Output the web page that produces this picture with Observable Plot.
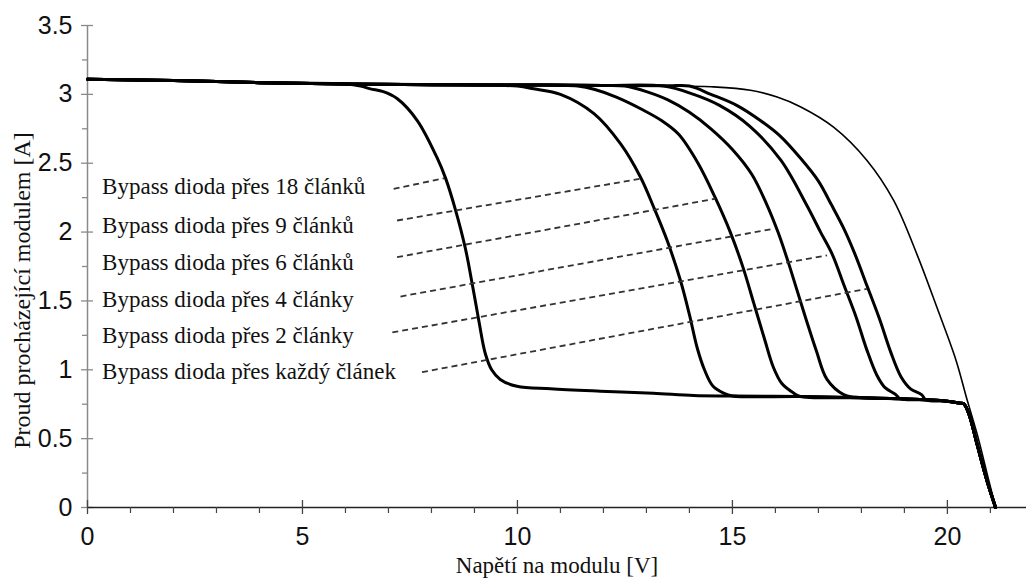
<!DOCTYPE html>
<html>
<head>
<meta charset="utf-8">
<script src="https://cdn.jsdelivr.net/npm/d3@7"></script>
<script src="https://cdn.jsdelivr.net/npm/@observablehq/plot@0.6"></script>
<style>
  html, body { margin: 0; padding: 0; background: #fff; }
  #chart svg { display: block; }
</style>
</head>
<body>
<div id="chart"></div>
<script>
// ---- shared parts of the I-V curves ----
const topV = [0, 2, 4, 6, 8, 10, 12, 13.5, 14.5];
const topI = [3.11, 3.10, 3.085, 3.075, 3.07, 3.068, 3.065, 3.062, 3.055];
const plateauV = [10.77, 11.93, 13.16, 14.1, 15.0, 16.58, 18.0, 18.9, 19.5, 19.99, 20.3, 20.38, 20.5, 20.69, 20.92, 21.12];
const plateauI = [0.862, 0.845, 0.83, 0.813, 0.81, 0.806, 0.797, 0.79, 0.782, 0.772, 0.757, 0.753, 0.68, 0.46, 0.196, 0];

// ---- bypass-diode curves (own part) ----
const v18 = [6.35, 6.58, 6.88, 7.2, 7.67, 8.13, 8.33, 8.56, 8.79, 8.95, 9.1, 9.25, 9.4, 9.6, 9.99];
const i18 = [3.06, 3.04, 3.02, 2.97, 2.81, 2.54, 2.39, 2.16, 1.88, 1.62, 1.36, 1.12, 1.0, 0.93, 0.88];
const v9 = [10.0, 10.38, 11.0, 11.78, 12.4, 12.86, 13.17, 13.48, 13.79, 14.0, 14.18, 14.35, 14.55, 14.8];
const i9 = [3.06, 3.04, 3.0, 2.86, 2.64, 2.40, 2.18, 1.94, 1.65, 1.4, 1.16, 1.0, 0.88, 0.83];
const v6 = [11.4, 11.8, 12.3, 12.9, 13.35, 13.75, 14.2, 14.6, 14.95, 15.25, 15.5, 15.75, 15.95, 16.15, 16.43];
const i6 = [3.06, 3.035, 2.98, 2.89, 2.81, 2.71, 2.5, 2.25, 2.0, 1.74, 1.48, 1.22, 1.02, 0.9, 0.83];
const v4 = [12.5, 13.0, 13.5, 14.0, 14.5, 15.0, 15.45, 15.8, 16.06, 16.3, 16.5, 16.72, 16.95, 17.2, 17.59];
const i4 = [3.06, 3.02, 2.96, 2.87, 2.75, 2.6, 2.42, 2.2, 2.0, 1.78, 1.58, 1.36, 1.14, 0.93, 0.82];
const v2 = [13.4, 14.1, 14.7, 15.4, 16.13, 16.72, 17.05, 17.32, 17.6, 17.88, 18.12, 18.36, 18.55, 18.8];
const i2 = [3.06, 3.0, 2.92, 2.77, 2.52, 2.2, 2.0, 1.84, 1.61, 1.38, 1.15, 0.96, 0.87, 0.82];
const v1 = [14.0, 14.5, 15.1, 15.65, 16.1, 16.6, 17.0, 17.3, 17.6, 17.85, 18.13, 18.42, 18.68, 18.92, 19.15, 19.4];
const i1 = [3.06, 3.0, 2.92, 2.81, 2.7, 2.53, 2.37, 2.2, 2.02, 1.84, 1.61, 1.37, 1.13, 0.95, 0.86, 0.82];

// ---- unshaded module (thin curve) ----
const vRef = [14.5, 15.42, 16.04, 16.58, 17.36, 18.13, 18.75, 19.29, 19.76, 20.2, 20.46, 20.69, 20.92, 21.12];
const iRef = [3.055, 3.03, 2.98, 2.91, 2.76, 2.52, 2.23, 1.84, 1.45, 1.07, 0.78, 0.535, 0.25, 0];

// ---- annotations ----
const labelTexts = [
  "Bypass dioda přes 18 článků",
  "Bypass dioda přes 9 článků",
  "Bypass dioda přes 6 článků",
  "Bypass dioda přes 4 články",
  "Bypass dioda přes 2 články",
  "Bypass dioda přes každý článek"
];
const labelV = [0.34, 0.34, 0.34, 0.34, 0.34, 0.34];
const labelI = [2.33, 2.05, 1.78, 1.51, 1.245, 0.99];
const leaderV1 = [7.12, 7.2, 7.2, 7.28, 7.09, 7.78];
const leaderI1 = [2.314, 2.084, 1.818, 1.532, 1.271, 0.983];
const leaderV2 = [8.29, 12.86, 14.6, 15.96, 17.2, 18.13];
const leaderI2 = [2.39, 2.387, 2.242, 2.024, 1.83, 1.588];

// ---- axes ----
const xDomain = [0, 21.84];
const yDomain = [0, 3.5];
const xMajor = [0, 5, 10, 15, 20];
const xMinor = [1, 2, 3, 4, 6, 7, 8, 9, 11, 12, 13, 14, 16, 17, 18, 19, 21];
const yMajor = [0, 0.5, 1, 1.5, 2, 2.5, 3, 3.5];
const yMinor = [0.25, 0.75, 1.25, 1.75, 2.25, 2.75, 3.25];
const xTitle = "Napětí na modulu [V]";
const yTitle = "Proud procházející modulem [A]";

// ---- build tables ----
function buildCurve(name, v, i) {
  const rows = [];
  topV.forEach((tv, k) => { if (tv < v[0]) rows.push({curve: name, V: tv, I: topI[k]}); });
  v.forEach((vv, k) => rows.push({curve: name, V: vv, I: i[k]}));
  plateauV.forEach((pv, k) => { if (pv > v[v.length - 1]) rows.push({curve: name, V: pv, I: plateauI[k]}); });
  return rows;
}
const thick = [
  ...buildCurve("18", v18, i18),
  ...buildCurve("9", v9, i9),
  ...buildCurve("6", v6, i6),
  ...buildCurve("4", v4, i4),
  ...buildCurve("2", v2, i2),
  ...buildCurve("1", v1, i1)
];
const thin = [];
topV.forEach((tv, k) => { if (tv < vRef[0]) thin.push({V: tv, I: topI[k]}); });
vRef.forEach((vv, k) => thin.push({V: vv, I: iRef[k]}));

const labels = labelTexts.map((t, k) => ({t, V: labelV[k], I: labelI[k]}));
const leaders = labelTexts.map((t, k) => ({x1: leaderV1[k], y1: leaderI1[k], x2: leaderV2[k], y2: leaderI2[k]}));

const sans = "'Liberation Sans', Arial, sans-serif";
const serif = "'Liberation Serif', 'Times New Roman', serif";

const chart = Plot.plot({
  width: 1026,
  height: 579,
  marginLeft: 87,
  marginRight: 0,
  marginTop: 25,
  marginBottom: 72,
  style: {background: "#fff", color: "#000", fontFamily: sans},
  x: {domain: xDomain, label: null},
  y: {domain: yDomain, label: null},
  marks: [
    // y axis
    Plot.ruleX([xDomain[0]], {y1: yDomain[0], y2: yDomain[1], stroke: "#8a8a8a", strokeWidth: 1.5}),
    Plot.axisY(yMinor, {tickSize: 5, fill: "none", stroke: "#8a8a8a", strokeWidth: 1.3, label: null}),
    Plot.axisY(yMajor, {tickSize: 12, dx: 6, fill: "none", stroke: "#8a8a8a", strokeWidth: 1.3, label: null}),
    Plot.axisY(yMajor, {tickSize: 0, tickPadding: 15, fontSize: 25, fontFamily: sans, fill: "#111", tickFormat: d => String(d), label: null}),
    // x axis
    Plot.ruleY([yDomain[0]], {stroke: "#222", strokeWidth: 1.5}),
    Plot.axisX(xMinor, {tickSize: 6, fill: "none", stroke: "#444", strokeWidth: 1.2, label: null}),
    Plot.axisX(xMajor, {tickSize: 14, dy: -7, fill: "none", stroke: "#444", strokeWidth: 1.3, label: null}),
    Plot.axisX(xMajor, {tickSize: 0, tickPadding: 20, fontSize: 25, fontFamily: sans, fill: "#111", tickFormat: d => String(d), label: null}),
    // curves
    Plot.line(thin, {x: "V", y: "I", stroke: "#000", strokeWidth: 1.6, curve: "catmull-rom"}),
    Plot.line(thick, {x: "V", y: "I", z: "curve", stroke: "#000", strokeWidth: 3, curve: "catmull-rom"}),
    // leader lines
    Plot.link(leaders, {x1: "x1", y1: "y1", x2: "x2", y2: "y2", stroke: "#333", strokeWidth: 1.8, strokeDasharray: "6,4"}),
    // labels
    Plot.text(labels, {x: "V", y: "I", text: "t", textAnchor: "start", fontSize: 23, fontFamily: serif, fill: "#111"}),
    // titles
    Plot.text([xTitle], {frameAnchor: "bottom", textAnchor: "middle", lineAnchor: "middle", dy: 58, fontSize: 23, fontFamily: serif, fill: "#111"}),
    Plot.text([yTitle], {frameAnchor: "left", textAnchor: "middle", lineAnchor: "middle", rotate: -90, dx: -65, dy: 24, fontSize: 24, fontFamily: serif, fill: "#111"})
  ]
});
document.getElementById("chart").appendChild(chart);
</script>
</body>
</html>
